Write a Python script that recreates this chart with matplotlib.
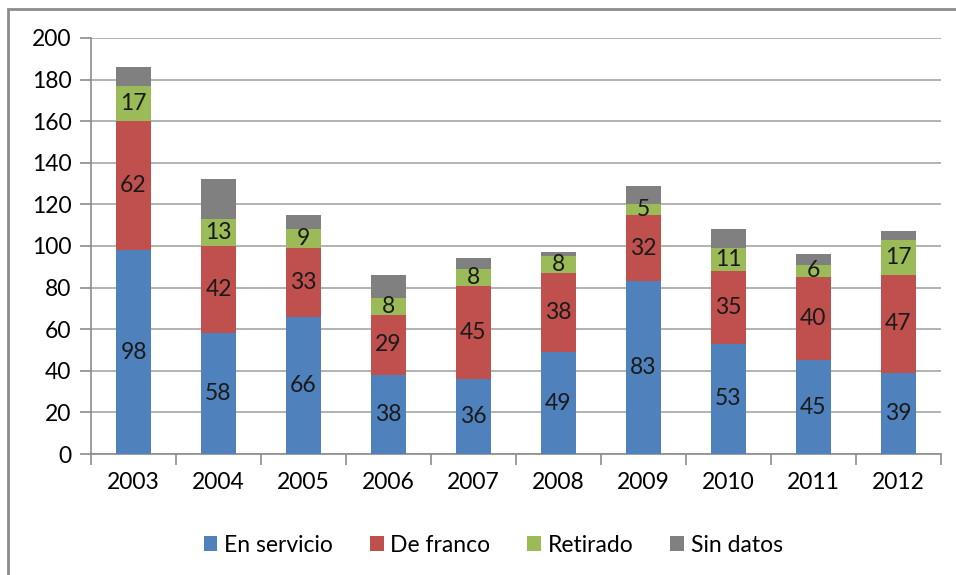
import numpy as np
import matplotlib.pyplot as plt
from matplotlib.patches import Rectangle

plt.rcParams['font.family'] = ['Lato', 'DejaVu Sans']

years = ["2003", "2004", "2005", "2006", "2007", "2008", "2009", "2010", "2011", "2012"]
en_servicio = [98, 58, 66, 38, 36, 49, 83, 53, 45, 39]
de_franco = [62, 42, 33, 29, 45, 38, 32, 35, 40, 47]
retirado = [17, 13, 9, 8, 8, 8, 5, 11, 6, 17]
sin_datos = [9, 19, 7, 11, 5, 2, 9, 9, 5, 4]

series = [("En servicio", en_servicio, "#4F81BD"),
          ("De franco", de_franco, "#C0504D"),
          ("Retirado", retirado, "#9BBB59"),
          ("Sin datos", sin_datos, "#808080")]

fig = plt.figure(figsize=(9.56, 5.75), dpi=100)
ax = fig.add_axes([0.0952, 0.2104, 0.889, 0.7236])

# frame around chart (cut on right/bottom)
fig.patches.append(Rectangle((8 / 956, -0.05), 1.2, 1 - 9 / 575 + 0.05,
                             transform=fig.transFigure, fill=False,
                             edgecolor="#8c8c8c", linewidth=2))

x = np.arange(len(years))
bottom = np.zeros(len(years))
for i, (name, vals, col) in enumerate(series):
    vals = np.array(vals)
    ax.bar(x, vals, 0.41, bottom=bottom, color=col, label=name, zorder=3)
    if i < 3:
        for xi, b, v in zip(x, bottom, vals):
            ax.text(xi, b + v / 2, str(v), ha="center", va="center",
                    fontsize=16.5, color="#1a1a1a", zorder=4)
    bottom += vals

ax.set_xlim(-0.5, len(years) - 0.5)
ax.set_ylim(0, 200)
ax.set_yticks(range(0, 201, 20))
ax.yaxis.grid(True, color="#a6a6a6", linewidth=1.2, zorder=0)
ax.set_xticks(x)
ax.set_xticklabels(years)
ax.set_xticks(np.arange(-0.5, len(years), 1), minor=True)
ax.tick_params(axis="x", which="major", length=0, pad=13, labelsize=16.5)
ax.tick_params(axis="x", which="minor", length=8, color="#8c8c8c", width=1.2)
ax.tick_params(axis="y", length=8, color="#8c8c8c", width=1.2, labelsize=16.5, pad=6)
for s in ["top", "right"]:
    ax.spines[s].set_visible(False)
for s in ["left", "bottom"]:
    ax.spines[s].set_color("#8c8c8c")
    ax.spines[s].set_linewidth(1.2)

fig.legend(loc="center", bbox_to_anchor=(0.516, 0.052), ncol=4, frameon=False,
           fontsize=16.5, handlelength=0.6, handleheight=0.6, handletextpad=0.3,
           columnspacing=1.6)

plt.savefig("out.png", dpi=100)
